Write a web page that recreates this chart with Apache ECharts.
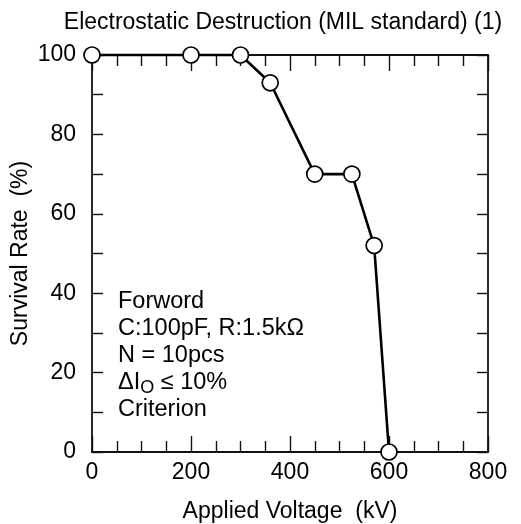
<!DOCTYPE html>
<html>
<head>
<meta charset="utf-8">
<script src="https://cdn.jsdelivr.net/npm/echarts@6/dist/echarts.min.js"></script>
<style>html,body{margin:0;padding:0;background:#fff}#c{width:521px;height:524px}</style>
</head>
<body>
<div id="c"></div>
<script>
const voltage = [0, 200, 300, 360, 450, 525, 570, 600];
const survival = [100, 100, 100, 93, 70, 70, 52, 0];
const xTicks = [0, 200, 400, 600, 800];
const yTicks = [0, 20, 40, 60, 80, 100];
const titleText = 'Electrostatic Destruction (MIL standard) (1)';
const xName = 'Applied Voltage  (kV)';
const yName = 'Survival Rate  (%)';
const noteLines = ['Forword', 'C:100pF, R:1.5kΩ', 'N = 10pcs', '{a|ΔI}{s|O}{a| ≤ 10%}', 'Criterion'];

const FONT = '"Liberation Sans", Arial, sans-serif';
const chart = echarts.init(document.getElementById('c'), null, {renderer: 'canvas'});
const lineCol = '#111';
function xAx(pos, showLabel) {
  return {
    type: 'value', position: pos, min: 0, max: 800, interval: 200,
    axisLine: {show: true, onZero: false, lineStyle: {color: lineCol, width: 1.8}},
    axisTick: {show: true, inside: true, length: 16, lineStyle: {color: lineCol, width: 1.4}},
    minorTick: {show: true, splitNumber: 4, length: 11, lineStyle: {color: lineCol, width: 1.4}},
    splitLine: {show: false},
    axisLabel: {show: showLabel, color: '#000', fontSize: 23, fontFamily: FONT, margin: 9,
      formatter: v => xTicks.includes(v) ? String(v) : ''},
    name: showLabel ? xName : '', nameLocation: 'middle', nameGap: 48,
    nameTextStyle: {color: '#000', fontSize: 23, fontFamily: FONT}
  };
}
function yAx(pos, showLabel) {
  return {
    type: 'value', position: pos, min: 0, max: 100, interval: 20,
    axisLine: {show: true, onZero: false, lineStyle: {color: lineCol, width: 1.8}},
    axisTick: {show: true, inside: true, length: 11, lineStyle: {color: lineCol, width: 1.4}},
    minorTick: {show: true, splitNumber: 2, length: 11, lineStyle: {color: lineCol, width: 1.4}},
    splitLine: {show: false},
    axisLabel: {show: showLabel, color: '#000', fontSize: 23, fontFamily: FONT, margin: 16,
      formatter: v => yTicks.includes(v) ? String(v) : ''},
    name: showLabel ? yName : '', nameLocation: 'middle', nameGap: 60, nameRotate: 90,
    nameMoveOverlap: false,
    nameTextStyle: {color: '#000', fontSize: 23, fontFamily: FONT}
  };
}
const noteGraphics = noteLines.map((t, i) => ({
  type: 'text', x: 118, y: 302 + i * 27, z: 10,
  style: {
    text: t, fill: '#000', font: '23.5px ' + FONT, verticalAlign: 'middle',
    rich: {
      a: {fontSize: 23.5, fontFamily: FONT, fill: '#000'},
      s: {fontSize: 18, fontFamily: FONT, fill: '#000', padding: [11, 0, 0, 0]}
    }
  }
}));
chart.setOption({
  animation: false,
  backgroundColor: '#fff',
  grid: {left: 92, right: 33, top: 55, bottom: 72, containLabel: false, outerBoundsMode: 'none'},
  xAxis: [xAx('bottom', true), xAx('top', false)],
  yAxis: [yAx('left', true), yAx('right', false)],
  graphic: [
    {type: 'text', x: 283, y: 23, style: {text: titleText, fill: '#000', font: '23px ' + FONT, align: 'center', verticalAlign: 'middle'}}
  ].concat(noteGraphics),
  series: [{
    type: 'line', xAxisIndex: 0, yAxisIndex: 0,
    data: voltage.map((v, i) => [v, survival[i]]),
    symbol: 'circle', symbolSize: 16, clip: false,
    lineStyle: {color: '#000', width: 2.6},
    itemStyle: {color: '#fff', borderColor: '#000', borderWidth: 1.7},
    z: 5
  }]
});
</script>
</body>
</html>
